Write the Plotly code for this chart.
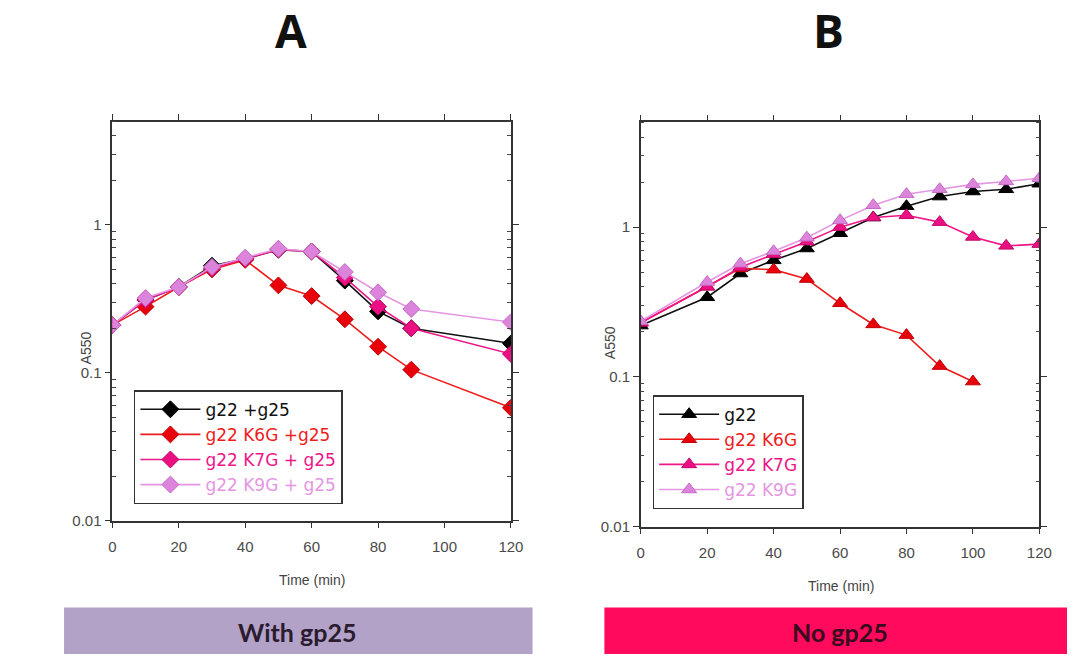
import plotly.graph_objects as go

# ---- data: A550 growth curves (log scale) ----
time_a = [0, 10, 20, 30, 40, 50, 60, 70, 80, 90, 120]
a_g22 = [0.21, 0.31, 0.38, 0.53, 0.59, 0.68, 0.66, 0.42, 0.26, 0.20, 0.158]
a_k6g = [0.21, 0.28, 0.38, 0.50, 0.58, 0.39, 0.33, 0.23, 0.15, 0.105, 0.058]
a_k7g = [0.21, 0.31, 0.38, 0.51, 0.59, 0.68, 0.66, 0.44, 0.28, 0.20, 0.134]
a_k9g = [0.21, 0.32, 0.38, 0.52, 0.60, 0.69, 0.66, 0.48, 0.35, 0.27, 0.22]

time_b = [0, 20, 30, 40, 50, 60, 70, 80, 90, 100, 110, 120]
b_g22 = [0.22, 0.34, 0.49, 0.60, 0.72, 0.91, 1.16, 1.38, 1.60, 1.73, 1.79, 1.95]
time_b_k6g = [0, 20, 30, 40, 50, 60, 70, 80, 90, 100]
b_k6g = [0.23, 0.40, 0.53, 0.52, 0.45, 0.31, 0.224, 0.19, 0.118, 0.093]
b_k7g = [0.23, 0.40, 0.54, 0.66, 0.80, 1.00, 1.16, 1.20, 1.08, 0.86, 0.75, 0.77]
b_k9g = [0.235, 0.43, 0.57, 0.69, 0.85, 1.11, 1.40, 1.66, 1.79, 1.93, 2.02, 2.12]

names_a = ["g22 +g25", "g22 K6G +g25", "g22 K7G + g25", "g22 K9G + g25"]
names_b = ["g22", "g22 K6G", "g22 K7G", "g22 K9G"]

y_ticks = [0.01, 0.1, 1]
y_ticktext = ["0.01", "0.1", "1"]
x_ticks = [0, 20, 40, 60, 80, 100, 120]

line_colors = ["#111111", "#ee1c1c", "#ee1688", "#e596e2"]
marker_colors = ["#000000", "#e8000b", "#ec0f82", "#dc84dc"]
marker_edges = ["#000000", "#c00008", "#c0086a", "#c46ac4"]

# minor ticks at 2..9 within each decade of the log axis
minor_vals = [m * 10 ** e for e in (-2, -1, 0) for m in range(2, 10) if m * 10 ** e <= 5]

fig = go.Figure()

series_a = [a_g22, a_k6g, a_k7g, a_k9g]
for i, (ys, nm) in enumerate(zip(series_a, names_a)):
    fig.add_trace(go.Scatter(
        x=time_a, y=ys, mode="lines+markers",
        name=f"<span style='color:{line_colors[i]}'>{nm}</span>",
        line=dict(color=line_colors[i], width=1.6),
        marker=dict(symbol="diamond", size=13, color=marker_colors[i],
                    line=dict(color=marker_edges[i], width=1)),
        xaxis="x", yaxis="y", legend="legend",
    ))

series_b = [(time_b, b_g22), (time_b_k6g, b_k6g), (time_b, b_k7g), (time_b, b_k9g)]
for i, ((xs, ys), nm) in enumerate(zip(series_b, names_b)):
    fig.add_trace(go.Scatter(
        x=xs, y=ys, mode="lines+markers",
        name=f"<span style='color:{line_colors[i]}'>{nm}</span>",
        line=dict(color=line_colors[i], width=1.6),
        marker=dict(symbol="triangle-up", size=13, color=marker_colors[i],
                    line=dict(color=marker_edges[i], width=1)),
        xaxis="x2", yaxis="y2", legend="legend2",
    ))

axis_common = dict(
    showline=True, linecolor="#333333", linewidth=1.5, mirror="allticks",
    ticks="outside", ticklen=6, tickwidth=1.3, tickcolor="#333333",
    showgrid=False, zeroline=False,
    tickfont=dict(family="Liberation Sans, Arial", size=15, color="#4a4a4a"),
)

x_common = dict(axis_common, range=[0, 120], tickvals=x_ticks, ticklabelstandoff=6)
y_common = dict(
    axis_common, type="log", range=[-2, 0.699],
    tickvals=y_ticks, ticktext=y_ticktext,
    minor=dict(tickvals=minor_vals, ticks="inside", ticklen=4, tickwidth=1,
               tickcolor="#444444", showgrid=False),
)

legend_common = dict(
    xanchor="left", yanchor="top",
    bordercolor="#333333", borderwidth=1.5, bgcolor="white",
    font=dict(family="DejaVu Sans", size=17),
    itemwidth=60,
)

fig.update_layout(
    width=1080, height=662,
    margin=dict(l=0, r=0, t=0, b=0),
    paper_bgcolor="white", plot_bgcolor="white",
    xaxis=dict(x_common, domain=[0.1019, 0.4769], anchor="y"),
    yaxis=dict(y_common, domain=[0.2039, 0.8142], anchor="x"),
    xaxis2=dict(x_common, domain=[0.599, 0.974], anchor="y2"),
    yaxis2=dict(y_common, domain=[0.1949, 0.8127], anchor="x2"),
    legend=dict(legend_common, x=0.1222, y=0.4033),
    legend2=dict(legend_common, x=0.6102, y=0.3958),
    showlegend=True,
)

label_font = dict(family="Liberation Sans, Arial", size=14, color="#444444")
title_font = dict(family="Open Sans", size=46, color="#111111")

annotations = [
    dict(text="<b>A</b>", x=292 / 1080, y=1 - 30 / 662, font=title_font),
    dict(text="<b>B</b>", x=838 / 1080, y=1 - 30 / 662, font=title_font),
    dict(text="Time (min)", x=313 / 1080, y=1 - 587 / 662, font=label_font),
    dict(text="Time (min)", x=850 / 1080, y=1 - 593 / 662, font=label_font),
    dict(text="A550", x=83 / 1080, y=1 - 352 / 662, font=label_font, textangle=-90),
    dict(text="A550", x=615 / 1080, y=1 - 347 / 662, font=label_font, textangle=-90),
    dict(text="<b>With gp25</b>", x=298 / 1080, y=1 - 640 / 662,
         font=dict(family="Lato", size=25, color="#2a1c2e")),
    dict(text="<b>No gp25</b>", x=849 / 1080, y=1 - 640 / 662,
         font=dict(family="Lato", size=25, color="#3a0a1e")),
]
for a in annotations:
    a.update(xref="paper", yref="paper", showarrow=False, xanchor="center", yanchor="middle")
fig.update_layout(annotations=annotations)

# coloured condition banners under each panel
fig.add_shape(type="rect", xref="paper", yref="paper",
              x0=61 / 1080, x1=537 / 1080, y0=0, y1=1 - 615 / 662,
              fillcolor="#b2a2c8", line=dict(width=0), layer="below")
fig.add_shape(type="rect", xref="paper", yref="paper",
              x0=610 / 1080, x1=1.0, y0=0, y1=1 - 615 / 662,
              fillcolor="#ff0a5c", line=dict(width=0), layer="below")

fig.write_html("out.html")
